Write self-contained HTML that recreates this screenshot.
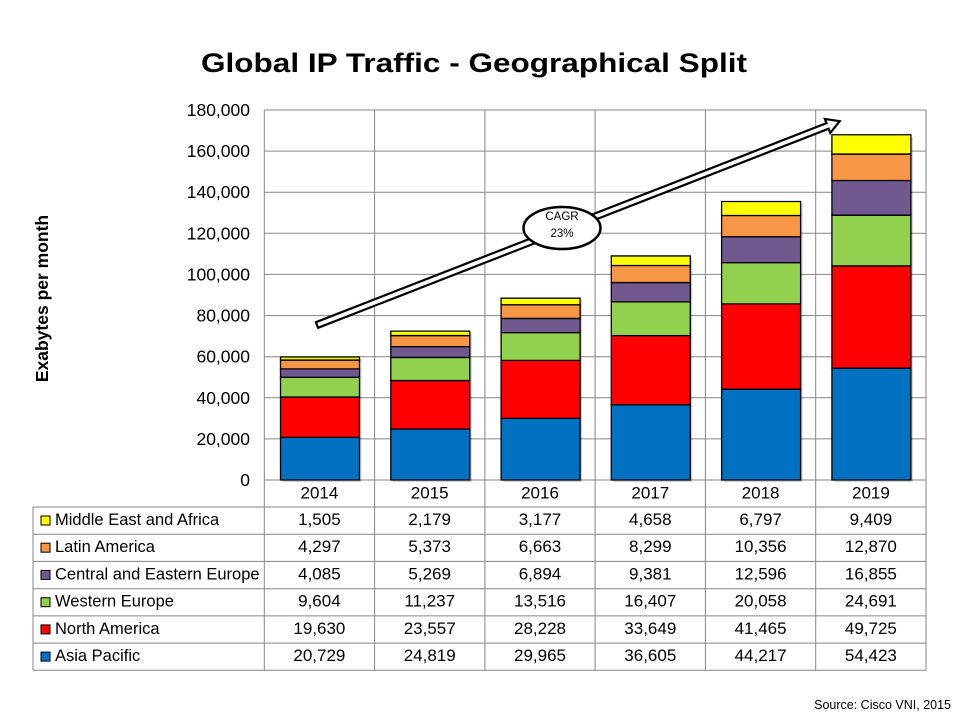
<!DOCTYPE html>
<html><head><meta charset="utf-8"><style>
html,body{margin:0;padding:0;background:#fff;}
svg{display:block;}
text{font-family:"Liberation Sans",Arial,sans-serif;fill:#000;}
</style></head><body>
<svg width="960" height="720" viewBox="0 0 960 720" xmlns="http://www.w3.org/2000/svg">
<rect width="960" height="720" fill="#fff"/>
<text x="474" y="72" font-size="27" font-weight="bold" text-anchor="middle" textLength="546" lengthAdjust="spacingAndGlyphs">Global IP Traffic - Geographical Split</text>

<!-- gridlines -->
<g stroke="#868686" stroke-width="1" fill="none">
<line x1="264.3" y1="110" x2="926" y2="110"/>
<line x1="264.3" y1="151.1" x2="926" y2="151.1"/>
<line x1="264.3" y1="192.2" x2="926" y2="192.2"/>
<line x1="264.3" y1="233.3" x2="926" y2="233.3"/>
<line x1="264.3" y1="274.4" x2="926" y2="274.4"/>
<line x1="264.3" y1="315.6" x2="926" y2="315.6"/>
<line x1="264.3" y1="356.7" x2="926" y2="356.7"/>
<line x1="264.3" y1="397.8" x2="926" y2="397.8"/>
<line x1="264.3" y1="438.9" x2="926" y2="438.9"/>
<line x1="264.3" y1="480" x2="926" y2="480"/>
<line x1="264.3" y1="110" x2="264.3" y2="670"/>
<line x1="374.6" y1="110" x2="374.6" y2="670"/>
<line x1="484.9" y1="110" x2="484.9" y2="670"/>
<line x1="595.1" y1="110" x2="595.1" y2="670"/>
<line x1="705.4" y1="110" x2="705.4" y2="670"/>
<line x1="815.7" y1="110" x2="815.7" y2="670"/>
<line x1="926" y1="110" x2="926" y2="670"/>
<!-- table -->
<line x1="33" y1="507" x2="926" y2="507"/>
<line x1="33" y1="534.2" x2="926" y2="534.2"/>
<line x1="33" y1="561.4" x2="926" y2="561.4"/>
<line x1="33" y1="588.7" x2="926" y2="588.7"/>
<line x1="33" y1="615.9" x2="926" y2="615.9"/>
<line x1="33" y1="643.1" x2="926" y2="643.1"/>
<line x1="33" y1="670.3" x2="926" y2="670.3"/>
<line x1="33" y1="507" x2="33" y2="670.3"/>
</g>

<!-- y ticks -->
<g font-size="17.5" text-anchor="end">
<text x="250" y="116">180,000</text>
<text x="250" y="157.1">160,000</text>
<text x="250" y="198.2">140,000</text>
<text x="250" y="239.3">120,000</text>
<text x="250" y="280.4">100,000</text>
<text x="250" y="321.6">80,000</text>
<text x="250" y="362.7">60,000</text>
<text x="250" y="403.8">40,000</text>
<text x="250" y="444.9">20,000</text>
<text x="250" y="486">0</text>
</g>
<text transform="translate(48,298.5) rotate(-90)" font-size="17.5" font-weight="bold" text-anchor="middle">Exabytes per month</text>

<!-- shadows -->
<g fill="#000" opacity="0.18">
<rect x="282.5" y="359" width="79" height="123"/>
<rect x="392.8" y="333.1" width="79" height="148.9"/>
<rect x="503.1" y="300.2" width="79" height="181.8"/>
<rect x="613.3" y="258" width="79" height="224"/>
<rect x="723.6" y="203.5" width="79" height="278.5"/>
<rect x="833.9" y="137" width="79" height="345"/>
</g>

<!-- bars -->
<g transform="translate(0,480) scale(1,-0.0020555556)" stroke="#000" stroke-width="1.3">
<g>
<rect x="280.5" y="0" width="79" height="20729" fill="#0070C0" vector-effect="non-scaling-stroke"/>
<rect x="280.5" y="20729" width="79" height="19630" fill="#FF0000" vector-effect="non-scaling-stroke"/>
<rect x="280.5" y="40359" width="79" height="9604" fill="#92D050" vector-effect="non-scaling-stroke"/>
<rect x="280.5" y="49963" width="79" height="4085" fill="#71588F" vector-effect="non-scaling-stroke"/>
<rect x="280.5" y="54048" width="79" height="4297" fill="#F79646" vector-effect="non-scaling-stroke"/>
<rect x="280.5" y="58345" width="79" height="1505" fill="#FFFF00" vector-effect="non-scaling-stroke"/>
</g>
<g>
<rect x="390.8" y="0" width="79" height="24819" fill="#0070C0" vector-effect="non-scaling-stroke"/>
<rect x="390.8" y="24819" width="79" height="23557" fill="#FF0000" vector-effect="non-scaling-stroke"/>
<rect x="390.8" y="48376" width="79" height="11237" fill="#92D050" vector-effect="non-scaling-stroke"/>
<rect x="390.8" y="59613" width="79" height="5269" fill="#71588F" vector-effect="non-scaling-stroke"/>
<rect x="390.8" y="64882" width="79" height="5373" fill="#F79646" vector-effect="non-scaling-stroke"/>
<rect x="390.8" y="70255" width="79" height="2179" fill="#FFFF00" vector-effect="non-scaling-stroke"/>
</g>
<g>
<rect x="501.1" y="0" width="79" height="29965" fill="#0070C0" vector-effect="non-scaling-stroke"/>
<rect x="501.1" y="29965" width="79" height="28228" fill="#FF0000" vector-effect="non-scaling-stroke"/>
<rect x="501.1" y="58193" width="79" height="13516" fill="#92D050" vector-effect="non-scaling-stroke"/>
<rect x="501.1" y="71709" width="79" height="6894" fill="#71588F" vector-effect="non-scaling-stroke"/>
<rect x="501.1" y="78603" width="79" height="6663" fill="#F79646" vector-effect="non-scaling-stroke"/>
<rect x="501.1" y="85266" width="79" height="3177" fill="#FFFF00" vector-effect="non-scaling-stroke"/>
</g>
<g>
<rect x="611.3" y="0" width="79" height="36605" fill="#0070C0" vector-effect="non-scaling-stroke"/>
<rect x="611.3" y="36605" width="79" height="33649" fill="#FF0000" vector-effect="non-scaling-stroke"/>
<rect x="611.3" y="70254" width="79" height="16407" fill="#92D050" vector-effect="non-scaling-stroke"/>
<rect x="611.3" y="86661" width="79" height="9381" fill="#71588F" vector-effect="non-scaling-stroke"/>
<rect x="611.3" y="96042" width="79" height="8299" fill="#F79646" vector-effect="non-scaling-stroke"/>
<rect x="611.3" y="104341" width="79" height="4658" fill="#FFFF00" vector-effect="non-scaling-stroke"/>
</g>
<g>
<rect x="721.6" y="0" width="79" height="44217" fill="#0070C0" vector-effect="non-scaling-stroke"/>
<rect x="721.6" y="44217" width="79" height="41465" fill="#FF0000" vector-effect="non-scaling-stroke"/>
<rect x="721.6" y="85682" width="79" height="20058" fill="#92D050" vector-effect="non-scaling-stroke"/>
<rect x="721.6" y="105740" width="79" height="12596" fill="#71588F" vector-effect="non-scaling-stroke"/>
<rect x="721.6" y="118336" width="79" height="10356" fill="#F79646" vector-effect="non-scaling-stroke"/>
<rect x="721.6" y="128692" width="79" height="6797" fill="#FFFF00" vector-effect="non-scaling-stroke"/>
</g>
<g>
<rect x="831.9" y="0" width="79" height="54423" fill="#0070C0" vector-effect="non-scaling-stroke"/>
<rect x="831.9" y="54423" width="79" height="49725" fill="#FF0000" vector-effect="non-scaling-stroke"/>
<rect x="831.9" y="104148" width="79" height="24691" fill="#92D050" vector-effect="non-scaling-stroke"/>
<rect x="831.9" y="128839" width="79" height="16855" fill="#71588F" vector-effect="non-scaling-stroke"/>
<rect x="831.9" y="145694" width="79" height="12870" fill="#F79646" vector-effect="non-scaling-stroke"/>
<rect x="831.9" y="158564" width="79" height="9409" fill="#FFFF00" vector-effect="non-scaling-stroke"/>
</g>
</g>

<!-- arrow -->
<g transform="translate(317,325) rotate(-21.3)">
<polygon points="0,-3 548,-3 548,-7.5 561,0 548,7.5 548,3 0,3" fill="#fff" stroke="#000" stroke-width="2.2" stroke-linejoin="miter"/>
</g>
<ellipse cx="562" cy="228" rx="38.5" ry="21" fill="#fff" stroke="#000" stroke-width="2.5"/>
<text x="562" y="220" font-size="11.5" text-anchor="middle">CAGR</text>
<text x="562" y="237" font-size="11.5" text-anchor="middle">23%</text>

<!-- years -->
<g font-size="17" text-anchor="middle">
<text x="319.4" y="498.5">2014</text>
<text x="429.7" y="498.5">2015</text>
<text x="540" y="498.5">2016</text>
<text x="650.3" y="498.5">2017</text>
<text x="760.6" y="498.5">2018</text>
<text x="870.9" y="498.5">2019</text>
</g>

<!-- legend markers -->
<g stroke="#000" stroke-width="1">
<rect x="41" y="516" width="9" height="9" fill="#FFFF00"/>
<rect x="41" y="543.2" width="9" height="9" fill="#F79646"/>
<rect x="41" y="570.4" width="9" height="9" fill="#71588F"/>
<rect x="41" y="597.7" width="9" height="9" fill="#92D050"/>
<rect x="41" y="624.9" width="9" height="9" fill="#FF0000"/>
<rect x="41" y="652.1" width="9" height="9" fill="#0070C0"/>
</g>
<g font-size="16.5">
<text x="55" y="525">Middle East and Africa</text>
<text x="55" y="552.2">Latin America</text>
<text x="55" y="579.4">Central and Eastern Europe</text>
<text x="55" y="606.7">Western Europe</text>
<text x="55" y="633.9">North America</text>
<text x="55" y="661.1">Asia Pacific</text>
</g>

<g font-size="17" text-anchor="middle">
<text x="319.4" y="525">1,505</text><text x="429.7" y="525">2,179</text><text x="540" y="525">3,177</text><text x="650.3" y="525">4,658</text><text x="760.6" y="525">6,797</text><text x="870.9" y="525">9,409</text>
<text x="319.4" y="552.2">4,297</text><text x="429.7" y="552.2">5,373</text><text x="540" y="552.2">6,663</text><text x="650.3" y="552.2">8,299</text><text x="760.6" y="552.2">10,356</text><text x="870.9" y="552.2">12,870</text>
<text x="319.4" y="579.4">4,085</text><text x="429.7" y="579.4">5,269</text><text x="540" y="579.4">6,894</text><text x="650.3" y="579.4">9,381</text><text x="760.6" y="579.4">12,596</text><text x="870.9" y="579.4">16,855</text>
<text x="319.4" y="606.7">9,604</text><text x="429.7" y="606.7">11,237</text><text x="540" y="606.7">13,516</text><text x="650.3" y="606.7">16,407</text><text x="760.6" y="606.7">20,058</text><text x="870.9" y="606.7">24,691</text>
<text x="319.4" y="633.9">19,630</text><text x="429.7" y="633.9">23,557</text><text x="540" y="633.9">28,228</text><text x="650.3" y="633.9">33,649</text><text x="760.6" y="633.9">41,465</text><text x="870.9" y="633.9">49,725</text>
<text x="319.4" y="661.1">20,729</text><text x="429.7" y="661.1">24,819</text><text x="540" y="661.1">29,965</text><text x="650.3" y="661.1">36,605</text><text x="760.6" y="661.1">44,217</text><text x="870.9" y="661.1">54,423</text>
</g>

<text x="951" y="709" font-size="12.5" text-anchor="end">Source: Cisco VNI, 2015</text>
</svg>
</body></html>
